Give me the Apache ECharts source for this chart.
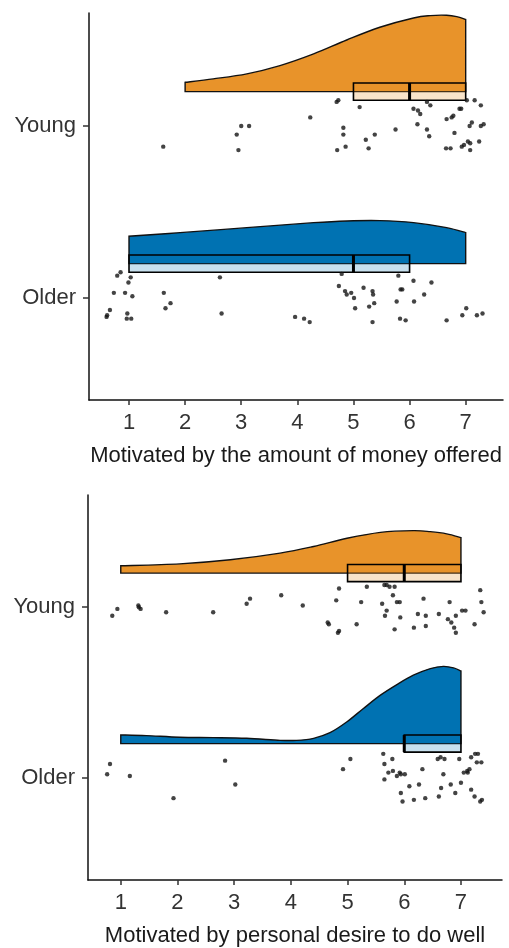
<!DOCTYPE html>
<html><head><meta charset="utf-8">
<script src="https://cdn.jsdelivr.net/npm/echarts@6/dist/echarts.min.js"></script>
<style>html,body{margin:0;padding:0;background:#fff}#c{width:509px;height:948px}</style>
</head><body><div id="c"></div>
<script>
// ---------- data ----------
const groupLabels = {1: 'Older', 2: 'Young'};
const xTickValues = [1, 2, 3, 4, 5, 6, 7];
const yTickValues = [1, 2];
const titleMoney = 'Motivated by the amount of money offered';
const titleDesire = 'Motivated by personal desire to do well';

// half-violin density outlines (x grid, height in group units)
const moneyYoungVx = [2.00, 2.50, 3.10, 3.69, 4.29, 4.88, 5.47, 6.07, 6.37, 6.66, 6.84, 7.00];
const moneyYoungVd = [0.054, 0.074, 0.103, 0.151, 0.219, 0.300, 0.374, 0.428, 0.442, 0.444, 0.436, 0.419];
const moneyOlderVx = [1.00, 1.91, 3.10, 4.29, 4.88, 5.47, 6.07, 6.66, 7.00];
const moneyOlderVd = [0.159, 0.180, 0.209, 0.238, 0.248, 0.250, 0.238, 0.209, 0.180];
const desireYoungVx = [1.00, 2.04, 2.93, 3.81, 4.40, 4.99, 5.58, 6.16, 6.46, 6.75, 7.00];
const desireYoungVd = [0.043, 0.054, 0.078, 0.117, 0.156, 0.204, 0.239, 0.249, 0.243, 0.230, 0.208];
const desireOlderVx = [1.00, 1.45, 2.04, 2.63, 3.22, 3.81, 4.10, 4.40, 4.69, 4.99, 5.28, 5.58, 5.87, 6.16, 6.46, 6.69, 6.87, 7.00];
const desireOlderVd = [0.051, 0.047, 0.037, 0.035, 0.031, 0.019, 0.019, 0.031, 0.064, 0.128, 0.206, 0.284, 0.346, 0.401, 0.440, 0.453, 0.444, 0.426];

// boxes: [q1, median, q3]
const moneyYoungBox = [5, 6, 7];
const moneyOlderBox = [1, 5, 6];
const desireYoungBox = [5, 6, 7];
const desireOlderBox = [6, 6, 7];

// jittered raw points [x, y]
const moneyYoungPts = [[1.61,1.88],[2.92,1.95],[3.00,2.00],[3.14,2.00],[2.95,1.86],[4.23,2.05],[4.70,2.14],[4.73,2.15],[4.82,1.99],[4.82,1.95],[4.71,1.86],[4.86,1.88],[5.11,2.11],[5.22,1.92],[5.38,1.95],[5.27,1.87],[5.75,1.98],[6.07,2.10],[6.15,2.09],[6.19,2.07],[6.31,2.14],[6.37,2.12],[6.14,2.01],[6.31,1.98],[6.35,1.94],[6.66,2.04],[6.75,2.05],[6.78,2.06],[6.89,2.10],[6.92,2.10],[6.80,1.96],[6.65,1.87],[6.73,1.87],[6.93,1.88],[6.97,1.89],[7.04,1.91],[7.08,1.90],[7.08,1.86],[7.24,1.91],[7.02,2.15],[7.16,2.15],[7.27,2.12],[7.07,2.00],[7.11,2.02],[7.27,2.00],[7.32,2.01]];
const moneyOlderPts = [[0.60,0.89],[0.61,0.90],[0.66,0.93],[0.73,1.03],[0.79,1.13],[0.85,1.15],[0.93,1.03],[0.97,0.91],[0.96,0.88],[1.04,0.88],[0.99,1.09],[1.03,1.12],[1.06,1.01],[1.62,1.03],[1.65,0.94],[1.74,0.97],[2.62,1.12],[2.65,0.91],[3.96,0.89],[4.12,0.88],[4.22,0.86],[4.79,1.14],[4.74,1.07],[4.85,1.04],[4.88,1.02],[4.96,1.03],[5.01,1.00],[5.03,0.94],[5.18,1.06],[5.28,0.95],[5.34,1.04],[5.35,1.02],[5.37,0.97],[5.34,0.86],[5.80,1.13],[5.77,0.98],[5.84,1.05],[5.87,1.05],[5.83,0.88],[5.93,0.87],[6.07,1.10],[6.08,0.98],[6.26,1.02],[6.39,1.09],[6.66,0.87],[6.94,0.90],[7.01,0.94],[7.20,0.90],[7.30,0.91]];
const desireYoungPts = [[0.85,1.95],[0.94,1.99],[1.31,2.01],[1.32,2.00],[1.35,1.99],[1.80,1.97],[2.63,1.97],[3.22,2.02],[3.28,2.05],[3.83,2.07],[4.21,2.01],[4.65,1.91],[4.67,1.90],[4.83,1.85],[4.85,1.86],[4.80,2.04],[4.85,2.11],[5.16,1.90],[5.24,2.03],[5.34,2.12],[5.61,2.02],[5.65,2.13],[5.69,2.13],[5.74,2.12],[5.83,2.12],[5.80,2.07],[5.87,2.03],[5.92,2.03],[5.69,1.98],[5.66,1.95],[5.93,1.94],[5.83,1.87],[6.17,1.88],[6.24,1.96],[6.38,1.89],[6.38,1.95],[6.34,2.05],[6.61,1.96],[6.77,1.93],[6.80,2.03],[6.83,1.91],[6.88,1.88],[6.91,1.85],[6.91,1.95],[7.02,1.98],[7.08,1.98],[7.24,1.90],[7.34,2.10],[7.36,2.03],[7.40,1.97]];
const desireOlderPts = [[0.76,1.02],[0.81,1.08],[1.16,1.01],[1.93,0.88],[2.84,1.10],[3.02,0.96],[4.92,1.05],[5.05,1.11],[5.63,1.14],[5.65,1.08],[5.65,0.99],[5.72,1.03],[5.79,1.11],[5.80,1.04],[5.87,1.01],[5.92,1.03],[5.94,1.02],[6.01,1.02],[5.94,0.91],[5.97,0.86],[6.09,0.95],[6.17,0.87],[6.26,0.96],[6.32,1.05],[6.37,0.88],[6.61,0.89],[6.59,1.11],[6.64,1.12],[6.71,1.11],[6.65,0.94],[6.69,1.02],[6.82,0.96],[6.90,0.91],[6.97,1.11],[7.00,0.97],[7.05,1.03],[7.11,1.04],[7.12,1.03],[7.15,1.05],[7.18,0.93],[7.18,1.12],[7.24,0.89],[7.25,1.14],[7.30,1.14],[7.28,1.09],[7.36,1.09],[7.34,0.86],[7.37,0.87]];

// ---------- styling ----------
const ORANGE = '#E8932A';
const BLUE = '#0072B2';
const ORANGE_LIGHT = 'rgba(232,147,42,0.25)';
const BLUE_LIGHT = 'rgba(0,114,178,0.22)';
const OFFSET = 0.2;     // violin/box shifted above the group position
const BOXHALF = 0.05;
const FONT = '"Liberation Sans", Arial, sans-serif';

function violinSeries(idx, vx, vd, group, color) {
  const base = group + OFFSET;
  return {
    type: 'custom', xAxisIndex: idx, yAxisIndex: idx, z: 2, silent: true,
    data: [[vx[0], base]],
    renderItem: function (params, api) {
      const pts = vx.map((x, i) => api.coord([x, base + vd[i]]));
      const b0 = api.coord([vx[0], base]);
      const b1 = api.coord([vx[vx.length - 1], base]);
      let d = 'M' + b0[0] + ' ' + b0[1] + ' L' + pts[0][0] + ' ' + pts[0][1];
      for (let i = 0; i < pts.length - 1; i++) {
        const p0 = pts[Math.max(i - 1, 0)], p1 = pts[i], p2 = pts[i + 1], p3 = pts[Math.min(i + 2, pts.length - 1)];
        const c1 = [p1[0] + (p2[0] - p0[0]) / 6, p1[1] + (p2[1] - p0[1]) / 6];
        const c2 = [p2[0] - (p3[0] - p1[0]) / 6, p2[1] - (p3[1] - p1[1]) / 6];
        d += ' C' + c1[0] + ' ' + c1[1] + ' ' + c2[0] + ' ' + c2[1] + ' ' + p2[0] + ' ' + p2[1];
      }
      d += ' L' + b1[0] + ' ' + b1[1] + ' Z';
      return { type: 'path', shape: { pathData: d }, style: { fill: color, stroke: '#111', lineWidth: 1.4 } };
    }
  };
}

function boxSeries(idx, box, group, fill) {
  const c = group + OFFSET;
  return {
    type: 'custom', xAxisIndex: idx, yAxisIndex: idx, z: 3, silent: true,
    data: [[box[0], c]],
    renderItem: function (params, api) {
      const tl = api.coord([box[0], c + BOXHALF]);
      const br = api.coord([box[2], c - BOXHALF]);
      const mt = api.coord([box[1], c + BOXHALF]);
      const mb = api.coord([box[1], c - BOXHALF]);
      return {
        type: 'group',
        children: [
          { type: 'rect', shape: { x: tl[0], y: tl[1], width: br[0] - tl[0], height: br[1] - tl[1] },
            style: { fill: fill, stroke: '#000', lineWidth: 1.6 } },
          { type: 'line', shape: { x1: mt[0], y1: mt[1], x2: mb[0], y2: mb[1] },
            style: { stroke: '#000', lineWidth: 3 } }
        ]
      };
    }
  };
}

function pointSeries(idx, pts) {
  return { type: 'scatter', xAxisIndex: idx, yAxisIndex: idx, z: 4, silent: true,
    symbol: 'circle', symbolSize: 4.4, itemStyle: { color: '#151515' }, data: pts };
}

function xAxisCfg(idx, min, max, name) {
  return {
    type: 'value', gridIndex: idx, min: min, max: max,
    splitLine: { show: false },
    axisLine: { show: true, lineStyle: { color: '#111', width: 1.5 } },
    axisTick: { show: true, length: 5, customValues: xTickValues, lineStyle: { color: '#333', width: 1.5 } },
    axisLabel: { customValues: xTickValues, fontSize: 22, color: '#333', margin: 12, fontFamily: FONT },
    name: name, nameLocation: 'middle', nameGap: 45,
    nameTextStyle: { fontSize: 22, color: '#1a1a1a', fontFamily: FONT }
  };
}
function yAxisCfg(idx, min, max) {
  return {
    type: 'value', gridIndex: idx, min: min, max: max,
    splitLine: { show: false },
    axisLine: { show: true, lineStyle: { color: '#111', width: 1.5 } },
    axisTick: { show: true, length: 6, customValues: yTickValues, lineStyle: { color: '#333', width: 1.5 } },
    axisLabel: { customValues: yTickValues, fontSize: 22, color: '#333', margin: 13, fontFamily: FONT,
      formatter: v => groupLabels[Math.round(v)] || '' }
  };
}

const chart = echarts.init(document.getElementById('c'), null, { renderer: 'canvas' });
chart.setOption({
  animation: false,
  backgroundColor: '#fff',
  textStyle: { fontFamily: FONT },
  grid: [
    { left: 89, top: 13, width: 414, height: 387 },
    { left: 88, top: 495, width: 414, height: 387 }
  ],
  xAxis: [xAxisCfg(0, 0.287, 7.665, titleMoney), xAxisCfg(1, 0.422, 7.724, titleDesire)],
  yAxis: [yAxisCfg(0, 0.407, 2.657), yAxisCfg(1, 0.40, 2.658)],
  series: [
    violinSeries(0, moneyYoungVx, moneyYoungVd, 2, ORANGE),
    violinSeries(0, moneyOlderVx, moneyOlderVd, 1, BLUE),
    boxSeries(0, moneyYoungBox, 2, ORANGE_LIGHT),
    boxSeries(0, moneyOlderBox, 1, BLUE_LIGHT),
    pointSeries(0, moneyYoungPts),
    pointSeries(0, moneyOlderPts),
    violinSeries(1, desireYoungVx, desireYoungVd, 2, ORANGE),
    violinSeries(1, desireOlderVx, desireOlderVd, 1, BLUE),
    boxSeries(1, desireYoungBox, 2, ORANGE_LIGHT),
    boxSeries(1, desireOlderBox, 1, BLUE_LIGHT),
    pointSeries(1, desireYoungPts),
    pointSeries(1, desireOlderPts)
  ]
});
</script></body></html>
